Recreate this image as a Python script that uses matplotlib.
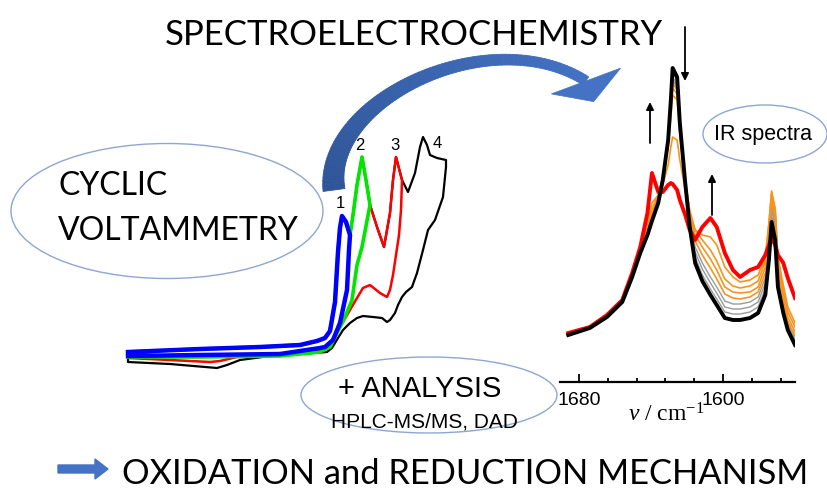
import numpy as np
import matplotlib
matplotlib.use("Agg")
import matplotlib.pyplot as plt
from matplotlib.patches import Ellipse, Polygon, FancyArrow
from matplotlib.collections import PolyCollection
from matplotlib.colors import to_rgb

plt.rcParams['mathtext.fontset'] = 'custom'
plt.rcParams['mathtext.rm'] = 'Liberation Serif'
plt.rcParams['mathtext.it'] = 'Liberation Serif:italic'

#------------------------------------------------------------
# cyclic voltammetry, E / V and I / uA
# anodic sweep (common to all four scans)
fwd_E = [0.000, 0.360, 0.660, 0.860, 0.945, 0.985, 1.010, 1.035, 1.050, 1.060,
         1.070, 1.090, 1.110, 1.125, 1.145, 1.170, 1.190, 1.210, 1.245, 1.280,
         1.310, 1.325, 1.340, 1.370, 1.400, 1.435, 1.460, 1.475, 1.495, 1.510,
         1.545, 1.590]
fwd_I = [-0.2, 0.1, 0.3, 0.5, 0.9, 1.2, 1.9, 4.8, 9.8, 12.2,
         13.4, 12.8, 11.5, 13.5, 16.5, 19.3, 17.0, 14.5, 12.3, 10.3,
         13.7, 17.0, 19.3, 17.0, 15.8, 17.7, 20.3, 21.3, 20.5, 19.5,
         19.2, 19.0]
switch_E = [1.110, 1.210, 1.370, 1.590]

# cathodic sweeps back from each switching potential
ret1_E = [1.105, 1.095, 1.060, 1.025, 0.985, 0.960, 0.760, 0.360, 0.000]
ret1_I = [10.0, 6.0, 2.7, 1.0, 0.3, 0.2, -0.4, -0.5, -0.6]
ret2_E = [1.170, 1.145, 1.120, 1.085, 1.045, 1.010, 0.960, 0.760, 0.360, 0.000]
ret2_I = [10.3, 8.5, 5.0, 3.3, 1.7, 0.3, -0.2, -0.6, -0.7, -0.7]
ret3_E = [1.365, 1.355, 1.340, 1.325, 1.310, 1.295, 1.260, 1.210, 1.175, 1.145,
          1.110, 1.075, 1.045, 1.010, 0.960, 0.860, 0.760, 0.545, 0.460, 0.410,
          0.210, 0.000]
ret3_I = [14.0, 11.5, 9.5, 7.5, 6.0, 5.3, 5.7, 6.5, 6.2, 5.2,
          4.0, 2.8, 1.8, 0.7, 0.0, -0.3, -0.5, -0.7, -1.1, -1.2,
          -1.0, -0.8]
ret4_E = [1.590, 1.575, 1.535, 1.500, 1.475, 1.445, 1.420, 1.390, 1.370, 1.350,
          1.335, 1.310, 1.295, 1.270, 1.225, 1.175, 1.145, 1.110, 1.075, 1.050,
          1.020, 0.995, 0.860, 0.710, 0.560, 0.495, 0.445, 0.210, 0.000, 0.000]
ret4_I = [18.3, 15.3, 13.0, 12.0, 10.0, 7.7, 6.3, 5.8, 5.3, 4.5,
          3.7, 3.0, 2.8, 3.2, 3.3, 3.4, 3.2, 2.7, 2.0, 1.2,
          0.2, -0.2, -0.4, -0.6, -1.0, -1.5, -1.8, -1.4, -1.2, -0.3]
peak_labels = ['1', '2', '3', '4']

#------------------------------------------------------------
# IR spectra, wavenumber / cm-1 and absorbance / mOD
wavenumber = [1686, 1674, 1664.5, 1656, 1650.5, 1646, 1642, 1639.5, 1636, 1633.5,
              1630.5, 1629, 1628, 1625.5, 1624, 1621, 1618.5, 1615.5, 1611.5, 1607,
              1603.5, 1599, 1594.5, 1590.5, 1585, 1580.5, 1576.5, 1574.5, 1573, 1571,
              1569.5, 1566.5, 1564, 1560]
ir_start = [10, 17, 28, 43, 68, 92, 110, 124, 142, 165, 205, 245, 277, 268, 222, 162, 118,
            82, 64, 50, 40, 27, 25, 25, 27, 32, 50, 85, 123, 105, 58, 32, 15, 0]
ir_end = [12, 18, 30, 45, 72, 98, 132, 172, 153, 153, 160, 162, 161, 155, 145, 130, 115,
          105, 118, 127, 118, 92, 75, 68, 75, 78, 90, 100, 107, 100, 90, 82, 67, 47]
ir_gray1 = [10, 17, 28, 43, 68, 92, 111, 125, 143, 165, 204, 243, 272, 264, 220, 163, 121,
            88, 70, 56, 46, 33, 31, 31, 33, 38, 56, 92, 130, 112, 62, 35, 17, 2]
ir_gray2 = [10, 17, 28, 43, 68, 92, 112, 126, 144, 165, 203, 240, 268, 260, 218, 164, 124,
            93, 76, 62, 52, 38, 36, 36, 38, 43, 62, 98, 136, 118, 66, 38, 19, 4]
ir_gray3 = [11, 17, 28, 43, 69, 93, 113, 128, 145, 166, 202, 238, 265, 258, 217, 165, 127,
            98, 82, 68, 58, 44, 41, 41, 43, 48, 67, 104, 140, 122, 70, 41, 21, 6]
ir_orange1 = [11, 18, 29, 44, 69, 94, 115, 130, 147, 166, 202, 236, 262, 255, 215, 165, 130,
              104, 90, 77, 66, 51, 47, 46, 48, 53, 72, 110, 145, 127, 75, 45, 24, 9]
ir_orange2 = [11, 18, 29, 44, 70, 95, 117, 133, 149, 167, 200, 232, 257, 251, 213, 165, 133,
              110, 98, 86, 75, 58, 53, 52, 53, 58, 78, 116, 150, 132, 80, 50, 28, 13]
ir_orange3 = [11, 18, 29, 44, 70, 95, 119, 136, 150, 167, 198, 228, 250, 245, 210, 164, 135,
              115, 105, 95, 84, 66, 59, 57, 59, 64, 84, 121, 154, 136, 85, 55, 33, 18]
ir_orange4 = [12, 18, 30, 44, 71, 96, 122, 142, 150, 160, 180, 198, 208, 205, 185, 155, 130,
              115, 110, 108, 100, 78, 68, 63, 65, 70, 88, 122, 152, 135, 88, 60, 38, 22]

#------------------------------------------------------------
W, H = 827, 492
fig = plt.figure(figsize=(W / 100, H / 100), dpi=100)
canvas = fig.add_axes([0, 0, 1, 1])
canvas.set_xlim(0, W)
canvas.set_ylim(H, 0)
canvas.axis('off')


def px_box(x0, y0, x1, y1):
    return [x0 / W, 1 - y1 / H, (x1 - x0) / W, (y1 - y0) / H]


head_font = 'Lato'
ell_col = '#8EA6D2'

# big curved arrow: tapered bezier body shaded dark -> light blue
P = np.array([[334, 190], [322, 100], [490, 20], [586, 81]], float)
t = np.linspace(0, 1, 90)[:, None]
c = (1 - t)**3 * P[0] + 3 * t * (1 - t)**2 * P[1] + 3 * t**2 * (1 - t) * P[2] + t**3 * P[3]
d = 3 * (1 - t)**2 * (P[1] - P[0]) + 6 * t * (1 - t) * (P[2] - P[1]) + 3 * t**2 * (P[3] - P[2])
d /= np.linalg.norm(d, axis=1)[:, None]
nrm = np.column_stack([-d[:, 1], d[:, 0]])
w = 10 + 12 * (1 - t)**2
a, b = c + nrm * w / 2, c - nrm * w / 2
polys = [[a[i], a[i + 1], b[i + 1], b[i]] for i in range(len(t) - 1)]
c0, c1 = np.array(to_rgb('#2F5597')), np.array(to_rgb('#4472C4'))
cols = [c0 + (c1 - c0) * s for s in t[:-1, 0]]
canvas.add_collection(PolyCollection(polys, facecolors=cols, edgecolors=cols, linewidths=0.6))
u = np.array([0.35, 0.94])
u /= np.linalg.norm(u)
v = np.array([u[1], -u[0]])
canvas.add_patch(Polygon([P[3] + 37 * v, P[3] + 22 * u, P[3] - 37 * v], closed=True,
                         fc='#4472C4', ec='#4472C4', lw=0.5))

# bubbles
canvas.add_patch(Ellipse((167, 211), 312, 135, fill=False, ec=ell_col, lw=1.0))
canvas.add_patch(Ellipse((429, 395), 256, 76, fill=False, ec=ell_col, lw=1.0))
canvas.add_patch(Ellipse((765, 134), 124, 58, fill=False, ec=ell_col, lw=1.0))

canvas.text(414, 45, 'SPECTROELECTROCHEMISTRY', ha='center', va='baseline',
            fontsize=25, family=head_font)
canvas.text(58, 195, 'CYCLIC', ha='left', va='baseline', fontsize=23, family=head_font)
canvas.text(58, 240, 'VOLTAMMETRY', ha='left', va='baseline', fontsize=23, family=head_font)
canvas.text(420, 397, '+ ANALYSIS', ha='center', va='baseline', fontsize=21,
            family='Liberation Sans')
canvas.text(424, 428, 'HPLC-MS/MS, DAD', ha='center', va='baseline', fontsize=15,
            family='Liberation Sans')
canvas.text(763, 140, 'IR spectra', ha='center', va='baseline', fontsize=15.5,
            family='Liberation Sans')
canvas.text(122, 484, 'OXIDATION and REDUCTION MECHANISM', ha='left', va='baseline',
            fontsize=24.8, family=head_font)
canvas.add_patch(FancyArrow(58, 469, 37, 0, width=8, head_width=20, head_length=13,
                            length_includes_head=False, color='#4472C4'))

# arrows marking band changes
for x0, y0, y1 in [(685, 27, 81), (650, 143, 102), (712, 215, 174)]:
    canvas.annotate('', xy=(x0, y1), xytext=(x0, y0),
                    arrowprops=dict(arrowstyle='-|>', lw=1.3, color='black',
                                    mutation_scale=11, shrinkA=0, shrinkB=0))

#------------------------------------------------------------
# voltammograms
cv = fig.add_axes(px_box(120, 120, 460, 380))
cv.set_xlim(-0.04, 1.66)
cv.set_ylim(-3.0, 23.0)
cv.axis('off')

fE, fI = np.array(fwd_E), np.array(fwd_I)
returns = [(ret1_E, ret1_I), (ret2_E, ret2_I), (ret3_E, ret3_I), (ret4_E, ret4_I)]
colors = ['#0000FF', '#00E600', '#FF0000', '#000000']
widths = [3.2, 2.6, 1.8, 1.6]
lab_dx = [-0.01, -0.01, -0.005, 0.07]
lab_dy = [0.8, 0.7, 0.7, -1.1]
for k in [3, 2, 1, 0]:
    m = fE <= switch_E[k] + 1e-9
    E = np.concatenate([fE[m], returns[k][0]])
    I = np.concatenate([fI[m], returns[k][1]])
    cv.plot(E, I, color=colors[k], lw=widths[k], solid_joinstyle='round')
lo = -1.0
for k in range(4):
    seg = (fE > lo + 1e-9) & (fE <= switch_E[k] + 1e-9)
    j = np.argmax(np.where(seg, fI, -99))
    cv.text(fE[j] + lab_dx[k], fI[j] + lab_dy[k], peak_labels[k], ha='center',
            va='baseline', fontsize=12, family='Liberation Sans')
    lo = switch_E[k]

#------------------------------------------------------------
# IR spectra
ir = fig.add_axes(px_box(560, 60, 795, 382))
ir.patch.set_visible(False)
for s in ['left', 'right', 'top']:
    ir.spines[s].set_visible(False)
ir.spines['bottom'].set_linewidth(1.6)
ir.set_xlim(1690.6, 1560)
ir.set_ylim(-37, 285)
ir.set_yticks([])
ir.set_xticks([1680, 1600])
ir.set_xticks([1664, 1648, 1632, 1616, 1584, 1568], minor=True)
ir.tick_params(axis='x', which='both', direction='in', width=1.3)
ir.tick_params(axis='x', which='major', length=5.5, labelsize=14, pad=7)
ir.tick_params(axis='x', which='minor', length=3)
for lab in ir.get_xticklabels():
    lab.set_family('Liberation Sans')

for spec in [ir_gray1, ir_gray2, ir_gray3]:
    ir.plot(wavenumber, spec, color='#9A9A9A', lw=1.0)
for spec in [ir_orange1, ir_orange2, ir_orange3, ir_orange4]:
    ir.plot(wavenumber, spec, color='#F7931E', lw=1.2)
ir.plot(wavenumber, ir_end, color='#FF0000', lw=2.8, solid_joinstyle='round')
ir.plot(wavenumber, ir_start, color='#000000', lw=2.8, solid_joinstyle='round')

canvas.text(628, 421, r'$\mathit{v}$ / cm$^{-1}$', ha='left', va='baseline',
            fontsize=17, family='Liberation Serif')

fig.savefig('out.png', dpi=100)
